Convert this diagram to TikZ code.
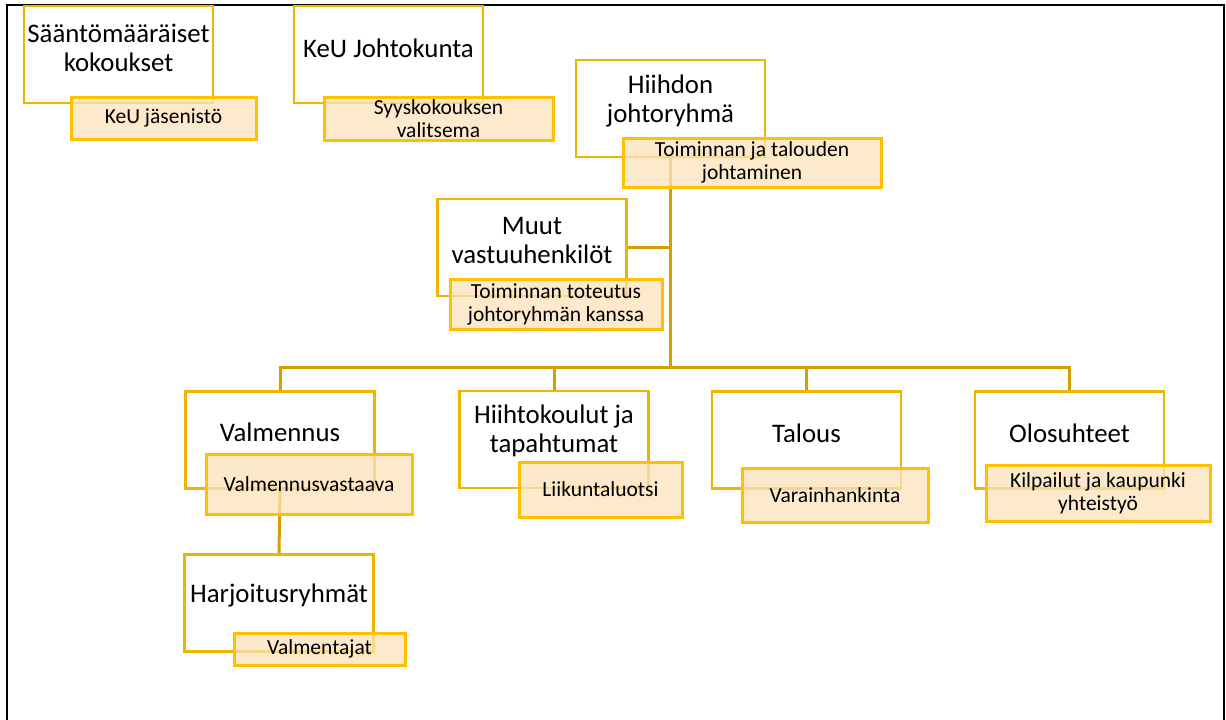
\documentclass[tikz,border=0pt]{standalone}
\usepackage{fontspec}
\setmainfont{Carlito}
\definecolor{boxline}{RGB}{237,180,0}
\definecolor{subline}{RGB}{255,192,0}
\definecolor{subfill}{RGB}{252,226,186}
\definecolor{connc}{RGB}{212,160,0}
\tikzset{
  mainbox/.style={draw=boxline, line width=2.5pt, fill=white, minimum width=189pt, minimum height=97pt, inner sep=0pt},
  subbox/.style={draw=subline, line width=3pt, fill=subfill, fill opacity=0.75, text opacity=1, inner sep=0pt, align=center, font=\fontsize{21.5}{23}\selectfont},
  maintext/.style={align=center, font=\fontsize{26.8}{29}\selectfont, inner sep=0pt},
  connector/.style={draw=connc, line width=3pt},
}
\begin{document}
\begin{tikzpicture}[x=1pt,y=-1pt]
\useasboundingbox (0,0) rectangle (1226,720);
\draw[line width=2pt] (7,740) -- (7,5) -- (1224,5) -- (1224,740);
% main boxes
\node[mainbox] (b1) at (118.5,54.5) {};
\node[mainbox] (b2) at (388.5,54.5) {};
\node[mainbox] (b3) at (670.5,108.5) {};
\node[mainbox] (b4) at (532,247.5) {};
\node[mainbox] (b5) at (280,440) {};
\node[mainbox] (b6) at (554,439.5) {};
\node[mainbox] (b7) at (806.5,440) {};
\node[mainbox] (b8) at (1069.5,440) {};
\node[mainbox] (b9) at (279,603) {};
% texts
\node[maintext] (t1) at (118.5,47.5) {Sääntömääräiset\\kokoukset};
\node[maintext] (t2) at (388.5,48) {KeU Johtokunta};
\node[maintext] (t3) at (670.5,101) {Hiihdon\\johtoryhmä};
\node[maintext] (t4) at (532,240) {Muut\\vastuuhenkilöt};
\node[maintext] (t5) at (280,432) {Valmennus};
\node[maintext] (t6) at (554,431) {Hiihtokoulut ja\\tapahtumat};
\node[maintext] (t7) at (806.5,433) {Talous};
\node[maintext] (t8) at (1069.5,433) {Olosuhteet};
\node[maintext] (t9) at (279,595) {Harjoitusryhmät};
% connectors
\coordinate (bus) at (670.5,367);
\draw[connector] (b3.south) -- (bus);
\draw[connector] (b4.east) -- (b4.east -| b3.south);
\draw[connector] (b5.north) |- (bus) -| (b8.north);
\draw[connector] (b6.north) -- (b6.north |- bus);
\draw[connector] (b7.north) -- (b7.north |- bus);
\draw[connector] (b5.south) -- (b9.north);
% sub boxes
\node[subbox, minimum width=185pt, minimum height=42pt] (s1) at (163.5,118) {KeU jäsenistö};
\node[subbox, minimum width=229pt, minimum height=43pt] (s2) at (438.5,118.5) {Syyskokouksen\\valitsema};
\node[subbox, minimum width=258pt, minimum height=49pt] (s3) at (752,162.5) {Toiminnan ja talouden\\johtaminen};
\node[subbox, minimum width=212pt, minimum height=50pt] (s4) at (556,304) {Toiminnan toteutus\\johtoryhmän kanssa};
\node[subbox, minimum width=206pt, minimum height=60pt] (s5) at (309,484) {Valmennusvastaava};
\node[subbox, minimum width=163pt, minimum height=55pt] (s6) at (600.5,489.5) {Liikuntaluotsi};
\node[subbox, minimum width=186pt, minimum height=54pt] (s7) at (835,495) {Varainhankinta};
\node[subbox, minimum width=224pt, minimum height=56pt] (s8) at (1098,493) {Kilpailut ja kaupunki\\yhteistyö};
\node[subbox, minimum width=171pt, minimum height=32pt] (s9) at (319.5,649) {Valmentajat};
\end{tikzpicture}
\end{document}
